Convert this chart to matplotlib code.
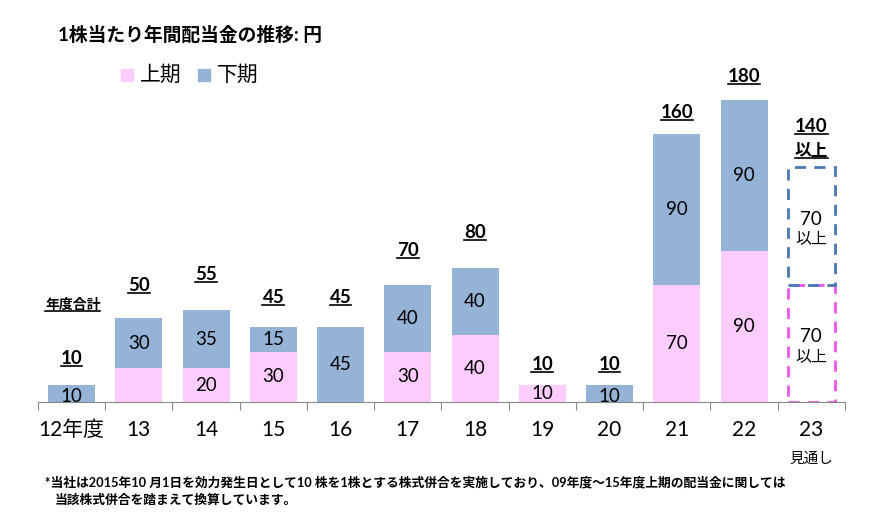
import matplotlib
matplotlib.use("Agg")
import matplotlib.pyplot as plt
from matplotlib.lines import Line2D

plt.rcParams['font.family'] = ['Lato', 'Noto Sans CJK JP', 'DejaVu Sans']

# data (円)
years = ['12年度', '13', '14', '15', '16', '17', '18', '19', '20', '21', '22', '23']
first_half = [0, 20, 20, 30, 0, 30, 40, 10, 0, 70, 90, 70]
second_half = [10, 30, 35, 15, 45, 40, 40, 0, 10, 90, 90, 70]
first_labels = ['', '', '20', '30', '', '30', '40', '10', '', '70', '90', '70\n以上']
second_labels = ['10', '30', '35', '15', '45', '40', '40', '', '10', '90', '90', '70\n以上']
total_labels = ['10', '50', '55', '45', '45', '70', '80', '10', '10', '160', '180', '140']
forecast = [False] * 11 + [True]

# gap (px) between bar top and the total label underline
label_gap = [15, 21, 24, 18, 18, 23, 24, 9, 9, 10, 12, 6]

pink = '#FFCCFF'
blue = '#95B3D7'

fig = plt.figure(figsize=(8.7, 5.27), dpi=100)
ax = fig.add_axes([38 / 870, 125 / 527, 807 / 870, 342 / 527])
ax.set_xlim(-0.5, len(years) - 0.5)
ax.set_ylim(0, 204)

x = list(range(len(years)))
w = 0.70
for i in x:
    if forecast[i]:
        ax.bar(i, first_half[i], w, color='white', edgecolor='#EE55EE',
               linestyle=(0, (4, 3)), linewidth=2)
        ax.bar(i, second_half[i], w, bottom=first_half[i], color='none',
               edgecolor='#4A78B0', linestyle=(0, (4, 3)), linewidth=2)
    else:
        ax.bar(i, first_half[i], w, color=pink, linewidth=0)
        ax.bar(i, second_half[i], w, bottom=first_half[i], color=blue, linewidth=0)

# segment labels
for i in x:
    if first_labels[i]:
        txt = first_labels[i]
        if '\n' in txt:
            num, sub = txt.split('\n')
            ax.text(i, first_half[i] / 2 + 4, num, ha='center', va='center', fontsize=13.5)
            ax.text(i, first_half[i] / 2 - 8, sub, ha='center', va='center', fontsize=11.5)
        else:
            ax.text(i, first_half[i] / 2, txt, ha='center', va='center', fontsize=13.5)
    if second_labels[i]:
        txt = second_labels[i]
        mid = first_half[i] + second_half[i] / 2
        if '\n' in txt:
            num, sub = txt.split('\n')
            ax.text(i, mid + 4, num, ha='center', va='center', fontsize=13.5)
            ax.text(i, mid - 8, sub, ha='center', va='center', fontsize=11.5)
        else:
            ax.text(i, mid - (2 if second_half[i] <= 10 else 0), txt,
                    ha='center', va='center', fontsize=13.5)

# total labels (bold, underlined)
underlined = []
for i in x:
    top = first_half[i] + second_half[i]
    if forecast[i]:
        t1 = ax.annotate('以上', (i, top), xytext=(0, label_gap[i] * 0.72 + 2),
                         textcoords='offset points', ha='center', va='bottom',
                         fontsize=12, fontweight='bold')
        t0 = ax.annotate(total_labels[i], (i, top), xytext=(0, label_gap[i] * 0.72 + 19),
                         textcoords='offset points', ha='center', va='bottom',
                         fontsize=13.5, fontweight='bold')
        underlined += [t0, t1]
    else:
        t = ax.annotate(total_labels[i], (i, top), xytext=(0, label_gap[i] * 0.72 + 2),
                        textcoords='offset points', ha='center', va='bottom',
                        fontsize=13.5, fontweight='bold')
        underlined.append(t)

# axis styling
for s in ['top', 'right', 'left']:
    ax.spines[s].set_visible(False)
ax.spines['bottom'].set_color('#888888')
ax.set_yticks([])
ax.set_xticks([i - 0.5 for i in range(len(years) + 1)], minor=False)
ax.set_xticklabels([])
ax.tick_params(axis='x', length=6, color='#888888', direction='out')
for i, lab in enumerate(years):
    ax.text(i, -11, lab, ha='center', va='top', fontsize=15,
            transform=ax.transData, clip_on=False)
ax.text(11, -30, '見通し', ha='center', va='top', fontsize=10.5, clip_on=False)

# title, legend, notes
fig.text(58 / 870, 1 - 35 / 527, '1株当たり年間配当金の推移: 円', ha='left', va='center',
         fontsize=13.5, fontweight='bold')
fig.patches.append(plt.Rectangle((121 / 870, 1 - 81 / 527), 12 / 870, 12 / 527,
                                 transform=fig.transFigure, color=pink))
fig.text(140 / 870, 1 - 75 / 527, '上期', ha='left', va='center', fontsize=15)
fig.patches.append(plt.Rectangle((198 / 870, 1 - 81 / 527), 12 / 870, 12 / 527,
                                 transform=fig.transFigure, color=blue))
fig.text(217 / 870, 1 - 75 / 527, '下期', ha='left', va='center', fontsize=15)

note_total = fig.text(45 / 870, 1 - 305 / 527, '年度合計', ha='left', va='center',
                      fontsize=10, fontweight='bold')
underlined.append(note_total)

fig.text(45 / 870, 1 - 482 / 527,
         '*当社は2015年10 月1日を効力発生日として10 株を1株とする株式併合を実施しており、09年度～15年度上期の配当金に関しては',
         ha='left', va='center', fontsize=9.2, fontweight='bold')
fig.text(55 / 870, 1 - 500 / 527, '当該株式併合を踏まえて換算しています。',
         ha='left', va='center', fontsize=9.2, fontweight='bold')

# draw underlines below the bold labels
fig.canvas.draw()
r = fig.canvas.get_renderer()
for t in underlined:
    bb = t.get_window_extent(r)
    y = bb.y0 + 1
    fig.add_artist(Line2D([bb.x0 / 870, bb.x1 / 870], [y / 527, y / 527],
                          transform=fig.transFigure, color='black', linewidth=1.2))

fig.savefig('out.png', dpi=100)
